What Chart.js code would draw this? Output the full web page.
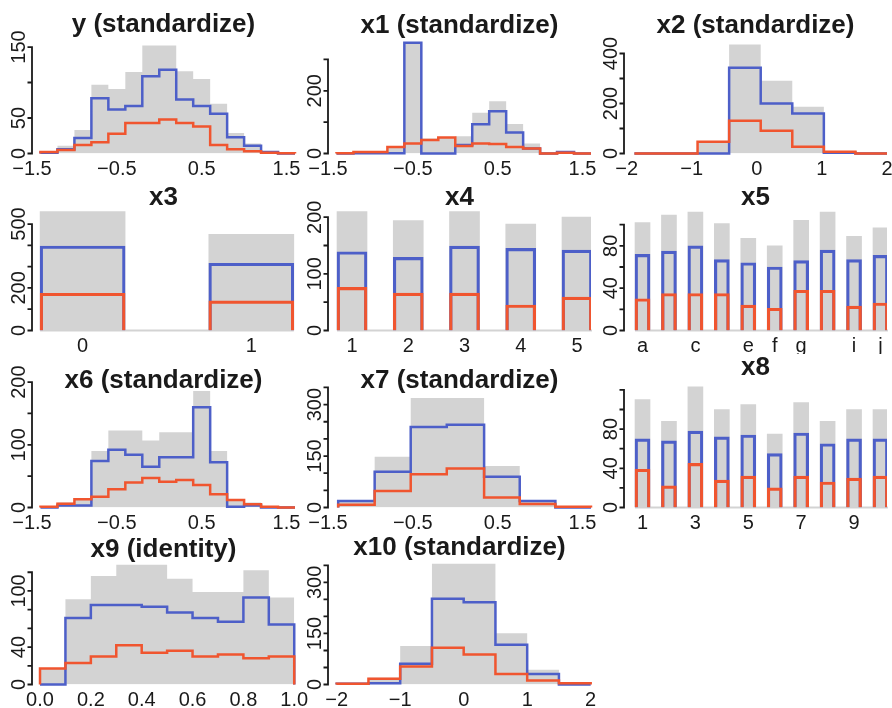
<!DOCTYPE html>
<html>
<head>
<meta charset="utf-8">
<script src="https://cdn.jsdelivr.net/npm/chart.js@4/dist/chart.umd.min.js"></script>
<style>
  body { margin: 0; background: #fff; }
  #grid { position: relative; width: 892px; height: 708px; overflow: hidden; }
  #grid canvas { position: absolute; }
</style>
</head>
<body>
<div id="grid"></div>
<script>
// ---- data (counts per bin / per category) ----

// y (standardize)
const yEdges = [-1.4, -1.2, -1.0, -0.8, -0.6, -0.4, -0.2, 0, 0.2, 0.4, 0.6, 0.8, 1.0, 1.2, 1.4, 1.6];
const yGray = [3, 11, 33, 97, 91, 115, 152, 152, 116, 105, 70, 29, 14, 3, 1];
const yBlue = [1, 6, 22, 78, 62, 67, 109, 118, 76, 67, 56, 23, 11, 2, 0];
const yRed  = [2, 5, 12, 16, 28, 43, 43, 48, 43, 38, 12, 6, 3, 1, 0.5];

// x1 (standardize)
const x1Edges = [-1.4, -1.2, -1.0, -0.8, -0.6, -0.4, -0.2, 0, 0.2, 0.4, 0.6, 0.8, 1.0, 1.2, 1.4, 1.6];
const x1Gray = [2, 5, 6, 22, 355, 48, 53, 55, 130, 167, 94, 32, 2, 5, 0];
const x1Blue = [0, 1, 1, 1, 353, 0, 0, 27, 93, 135, 67, 16, 0, 5, 0];
const x1Red  = [1, 5, 5, 21, 32, 43, 51, 24, 32, 30, 21, 16, 0, 2, 0];

// x2 (standardize)
const x2Edges = [-1.88, -1.395, -0.91, -0.425, 0.06, 0.545, 1.03, 1.515, 2.0];
const x2Gray = [0, 0, 45, 436, 291, 187, 6, 0];
const x2Blue = [0, 0, 0, 343, 200, 160, 3, 0];
const x2Red  = [0, 0, 47, 131, 91, 27, 7, 0];

// x3
const x3Cats = ['0', '1'];
const x3Gray = [558, 452];
const x3Blue = [397, 316];
const x3Red  = [175, 139];

// x4
const x4Cats = ['1', '2', '3', '4', '5'];
const x4Gray = [210, 194, 210, 188, 200];
const x4Blue = [139, 129, 149, 145, 142];
const x4Red  = [76, 66, 66, 45, 59];

// x5
const x5Cats = ['a', 'b', 'c', 'd', 'e', 'f', 'g', 'h', 'i', 'j'];
const x5Shown = ['a', 'c', 'e', 'f', 'g', 'i', 'j'];
const x5Gray = [102, 109, 112, 101, 87, 80, 104, 112, 89, 97];
const x5Blue = [72, 75, 80, 67, 64, 60, 66, 76, 67, 71];
const x5Red  = [30, 35, 35, 35, 24, 21, 38, 38, 23, 26];

// x6 (standardize)
const x6Edges = [-1.4, -1.2, -1.0, -0.8, -0.6, -0.4, -0.2, 0, 0.2, 0.4, 0.6, 0.8, 1.0, 1.2, 1.4, 1.6];
const x6Gray = [1, 8, 15, 90, 123, 123, 107, 120, 120, 186, 90, 13, 8, 1, 0];
const x6Blue = [0, 3, 3, 74, 92, 84, 65, 80, 80, 160, 72, 1, 3, 0, 0];
const x6Red  = [1, 6, 13, 17, 29, 40, 47, 41, 44, 36, 21, 12, 5, 1, 0];

// x7 (standardize)
const x7Edges = [-1.38, -0.95, -0.525, -0.1, 0.34, 0.76, 1.18, 1.6];
const x7Gray = [19, 148, 319, 319, 121, 22, 2];
const x7Blue = [19, 104, 235, 241, 90, 19, 0];
const x7Red  = [8, 48, 97, 114, 29, 10, 2];

// x8
const x8Cats = ['1', '2', '3', '4', '5', '6', '7', '8', '9', '10'];
const x8Shown = ['1', '3', '5', '7', '9'];
const x8Gray = [110, 88, 123, 100, 105, 75, 107, 88, 100, 100];
const x8Blue = [70, 68, 78, 72, 74, 55, 76, 65, 70, 70];
const x8Red  = [39, 22, 45, 28, 32, 20, 32, 26, 30, 32];

// x9 (identity)
const x9Edges = [0, 0.1, 0.2, 0.3, 0.4, 0.5, 0.6, 0.7, 0.8, 0.9, 1.0];
const x9Gray = [17, 91, 116, 128, 128, 113, 99, 99, 122, 93];
const x9Blue = [0, 71, 85, 85, 83, 77, 71, 67, 93, 64];
const x9Red  = [17, 23, 30, 42, 34, 36, 30, 32, 28, 30];

// x10 (standardize)
const x10Edges = [-2, -1.5, -1, -0.5, 0, 0.5, 1, 1.5, 2];
const x10Gray = [2, 20, 113, 355, 355, 151, 43, 4];
const x10Blue = [2, 4, 61, 252, 242, 117, 31, 0];
const x10Red  = [2, 17, 53, 108, 88, 31, 12, 4];

// x axis tick labels
const halfTicks = [-1.5, -0.5, 0.5, 1.5];
const halfLabels = ['\u22121.5', '\u22120.5', '0.5', '1.5'];
const unitTicks = [-2, -1, 0, 1, 2];
const unitLabels = ['\u22122', '\u22121', '0', '1', '2'];
const x9Ticks = [0, 0.2, 0.4, 0.6, 0.8, 1.0];
const x9Labels = ['0.0', '0.2', '0.4', '0.6', '0.8', '1.0'];

// ---- styling / layout ----
const FONT = '"Liberation Sans", Arial, Helvetica, sans-serif';
const BLUE = '#4d5fc8';
const RED = '#f0552f';
const GRAY = '#d3d3d3';
const INK = '#1a1a1a';
const CELL_W = 296, CELL_H = 177, CANVAS_W = 316;
const AREA_LEFT = 32, AREA_RIGHT = 295, AREA_TOP = 30, AREA_BOTTOM = 153.5;

function barTicks(cats, shown) {
    return shown.map(s => cats.indexOf(s));
}

const panels = [
    { title: 'y (standardize)', col: 0, row: 0, titleY: 32, kind: 'hist',
      edges: yEdges, gray: yGray, blue: yBlue, red: yRed,
      xMin: -1.5, xMax: 1.6, xTicks: halfTicks, xLabels: halfLabels,
      yMax: 174, yStep: 50, yTop: 150, yLabels: [0, 50, 150] },
    { title: 'x1 (standardize)', col: 1, row: 0, titleY: 33, kind: 'hist',
      edges: x1Edges, gray: x1Gray, blue: x1Blue, red: x1Red,
      xMin: -1.5, xMax: 1.6, xTicks: halfTicks, xLabels: halfLabels,
      yMax: 394, yStep: 100, yTop: 300, yLabels: [0, 200] },
    { title: 'x2 (standardize)', col: 2, row: 0, titleY: 33, kind: 'hist',
      edges: x2Edges, gray: x2Gray, blue: x2Blue, red: x2Red,
      xMin: -2.04, xMax: 2.0, xTicks: unitTicks, xLabels: unitLabels,
      yMax: 494, yStep: 100, yTop: 400, yLabels: [0, 200, 400] },
    { title: 'x3', col: 0, row: 1, titleY: 28, kind: 'bar', barW: 85,
      gray: x3Gray, blue: x3Blue, red: x3Red,
      xMin: -0.3, xMax: 1.259, xTicks: barTicks(x3Cats, x3Cats), xLabels: x3Cats,
      yMax: 580, yStep: 100, yTop: 500, yLabels: [0, 200, 500] },
    { title: 'x4', col: 1, row: 1, titleY: 28, kind: 'bar', barW: 30,
      gray: x4Gray, blue: x4Blue, red: x4Red,
      xMin: -0.427, xMax: 4.249, xTicks: barTicks(x4Cats, x4Cats), xLabels: x4Cats,
      yMax: 218, yStep: 50, yTop: 200, yLabels: [0, 100, 200] },
    { title: 'x5', col: 2, row: 1, titleY: 28, kind: 'bar', barW: 15,
      gray: x5Gray, blue: x5Blue, red: x5Red,
      xMin: -0.7, xMax: 9.246, xTicks: barTicks(x5Cats, x5Shown), xLabels: x5Shown,
      yMax: 116.7, yStep: 20, yTop: 100, yLabels: [0, 40, 80] },
    { title: 'x6 (standardize)', col: 0, row: 2, titleY: 34, kind: 'hist',
      edges: x6Edges, gray: x6Gray, blue: x6Blue, red: x6Red,
      xMin: -1.5, xMax: 1.6, xTicks: halfTicks, xLabels: halfLabels,
      yMax: 197, yStep: 50, yTop: 200, yLabels: [0, 100, 200] },
    { title: 'x7 (standardize)', col: 1, row: 2, titleY: 34, kind: 'hist',
      edges: x7Edges, gray: x7Gray, blue: x7Blue, red: x7Red,
      xMin: -1.5, xMax: 1.6, xTicks: halfTicks, xLabels: halfLabels,
      yMax: 360, yStep: 50, yTop: 350, yLabels: [0, 150, 300] },
    { title: 'x8', col: 2, row: 2, titleY: 21, kind: 'bar', barW: 15,
      gray: x8Gray, blue: x8Blue, red: x8Red,
      xMin: -0.7, xMax: 9.246, xTicks: barTicks(x8Cats, x8Shown), xLabels: x8Shown,
      yMax: 126, yStep: 20, yTop: 120, yLabels: [0, 40, 80] },
    { title: 'x9 (identity)', col: 0, row: 3, titleY: 26, kind: 'hist',
      edges: x9Edges, gray: x9Gray, blue: x9Blue, red: x9Red,
      xMin: -0.0315, xMax: 1.003, xTicks: x9Ticks, xLabels: x9Labels,
      yMax: 132, yStep: 20, yTop: 120, yLabels: [0, 40, 100] },
    { title: 'x10 (standardize)', col: 1, row: 3, titleY: 24, kind: 'hist',
      edges: x10Edges, gray: x10Gray, blue: x10Blue, red: x10Red,
      xMin: -2.137, xMax: 2.005, xTicks: unitTicks, xLabels: unitLabels,
      yMax: 363, yStep: 50, yTop: 350, yLabels: [0, 150, 300] }
];

// outline of a histogram: start and end on the baseline
function stepPoints(edges, counts) {
    const pts = [{ x: edges[0], y: 0 }];
    counts.forEach((c, i) => pts.push({ x: edges[i], y: c }));
    pts.push({ x: edges[edges.length - 1], y: 0 });
    return pts;
}

function histDatasets(p) {
    const common = { stepped: true, pointRadius: 0, clip: false, borderJoinStyle: 'miter', borderCapStyle: 'butt' };
    return [
        { data: stepPoints(p.edges, p.red), borderColor: RED, borderWidth: 2.5, fill: false },
        { data: stepPoints(p.edges, p.blue), borderColor: BLUE, borderWidth: 2.5, fill: false },
        { data: stepPoints(p.edges, p.gray), borderWidth: 0, backgroundColor: GRAY, fill: 'origin' }
    ].map(d => Object.assign({}, common, d));
}

function barDatasets(p) {
    const pts = arr => arr.map((v, i) => ({ x: i, y: v }));
    const common = { grouped: false, barThickness: p.barW, borderSkipped: 'start' };
    return [
        { data: pts(p.red), backgroundColor: 'rgba(0,0,0,0)', borderColor: RED, borderWidth: 2.5 },
        { data: pts(p.blue), backgroundColor: 'rgba(0,0,0,0)', borderColor: BLUE, borderWidth: 2.5 },
        { data: pts(p.gray), backgroundColor: GRAY, borderWidth: 0 }
    ].map(d => Object.assign({}, common, d));
}

// base-graphics style axes and title
function rAxes(p) {
    return {
        id: 'rAxes',
        beforeDatasetsDraw(chart) {
            if (p.kind !== 'bar') return;
            const bars = chart.getDatasetMeta(2).data;
            const y0 = chart.scales.y.getPixelForValue(0);
            const ctx = chart.ctx;
            ctx.save();
            ctx.strokeStyle = GRAY;
            ctx.lineWidth = 2;
            ctx.beginPath();
            ctx.moveTo(bars[0].x - bars[0].width / 2, y0);
            ctx.lineTo(bars[bars.length - 1].x + bars[bars.length - 1].width / 2, y0);
            ctx.stroke();
            ctx.restore();
        },
        afterDraw(chart) {
            const ctx = chart.ctx;
            const xs = chart.scales.x, ys = chart.scales.y;
            const area = chart.chartArea;
            const ax = area.left;
            ctx.save();
            ctx.strokeStyle = INK;
            ctx.fillStyle = INK;
            ctx.lineWidth = 1.8;
            ctx.beginPath();
            ctx.moveTo(ax, ys.getPixelForValue(0) + 0.9);
            ctx.lineTo(ax, ys.getPixelForValue(p.yTop) - 0.9);
            for (let v = 0; v <= p.yTop; v += p.yStep) {
                const py = ys.getPixelForValue(v);
                ctx.moveTo(ax, py);
                ctx.lineTo(ax - 4.5, py);
            }
            ctx.stroke();

            ctx.font = '20px ' + FONT;
            ctx.textAlign = 'center';
            ctx.textBaseline = 'middle';
            p.yLabels.forEach(v => {
                ctx.save();
                ctx.translate(ax - 12.5, ys.getPixelForValue(v));
                ctx.rotate(-Math.PI / 2);
                ctx.fillText(String(v), 0, 0);
                ctx.restore();
            });
            p.xTicks.forEach((v, i) => {
                ctx.fillText(p.xLabels[i], xs.getPixelForValue(v), area.bottom + 16);
            });

            ctx.font = 'bold 26px ' + FONT;
            ctx.textBaseline = 'alphabetic';
            ctx.fillText(p.title, (area.left + area.right) / 2, p.titleY);
            ctx.restore();
        }
    };
}

const grid = document.getElementById('grid');
panels.forEach(p => {
    const canvas = document.createElement('canvas');
    canvas.width = CANVAS_W;
    canvas.height = CELL_H;
    canvas.style.left = (p.col * CELL_W) + 'px';
    canvas.style.top = (p.row * CELL_H) + 'px';
    grid.appendChild(canvas);

    new Chart(canvas, {
        type: p.kind === 'bar' ? 'bar' : 'line',
        data: { datasets: p.kind === 'bar' ? barDatasets(p) : histDatasets(p) },
        options: {
            responsive: false,
            animation: false,
            devicePixelRatio: 1,
            events: [],
            layout: {
                padding: { left: AREA_LEFT, right: CANVAS_W - AREA_RIGHT, top: AREA_TOP, bottom: CELL_H - AREA_BOTTOM }
            },
            plugins: {
                legend: { display: false },
                tooltip: { enabled: false },
                title: { display: false }
            },
            scales: {
                x: { type: 'linear', min: p.xMin, max: p.xMax, offset: false, display: false },
                y: { type: 'linear', min: 0, max: p.yMax, display: false }
            }
        },
        plugins: [rAxes(p)]
    });
});
</script>
</body>
</html>
